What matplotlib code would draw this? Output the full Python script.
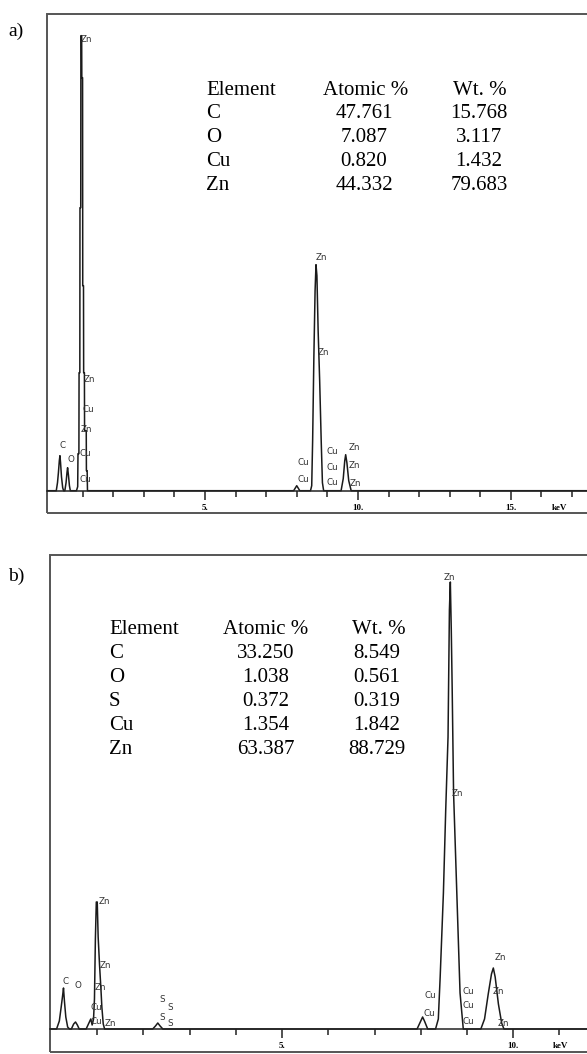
import matplotlib.pyplot as plt
from matplotlib.patches import Rectangle

# EDS spectra (energy in keV, counts in arbitrary units)
energy_a = [-0.16, 0.14, 0.18, 0.21, 0.24, 0.26, 0.28, 0.31, 0.35, 0.38,
            0.42, 0.46, 0.49, 0.51, 0.54, 0.57, 0.60,
            0.80, 0.84, 0.85, 0.88, 0.885, 0.91, 0.915, 0.94, 0.945, 0.97, 0.975,
            1.0, 1.005, 1.03, 1.035, 1.06, 1.065, 1.12, 1.125, 1.15, 1.16,
            7.90, 7.96, 8.00, 8.04, 8.10,
            8.45, 8.49, 8.52, 8.56, 8.60, 8.63, 8.66, 8.70, 8.75, 8.80, 8.84, 8.88,
            9.45, 9.52, 9.57, 9.60, 9.64, 9.70, 9.78, 17.8]
counts_a = [0, 0, 8, 18, 30, 35, 28, 14, 3, 0,
            0, 8, 18, 23, 15, 5, 0,
            0, 4, 37, 37, 118, 118, 283, 283, 455, 455, 413,
            413, 205, 205, 118, 118, 60, 60, 20, 20, 0,
            0, 3, 5, 3, 0,
            0, 5, 50, 133, 200, 226, 215, 160, 110, 50, 8, 0,
            0, 12, 30, 36, 28, 10, 0, 0]

energy_b = [-0.02, 0.12, 0.18, 0.22, 0.25, 0.27, 0.29, 0.32, 0.36, 0.40,
            0.44, 0.49, 0.53, 0.57, 0.61,
            0.76, 0.82, 0.86, 0.89, 0.92, 0.94, 0.96, 0.98, 1.00, 1.02, 1.05,
            1.08, 1.10, 1.13, 1.16,
            2.20, 2.26, 2.31, 2.36, 2.42,
            7.92, 7.98, 8.04, 8.08, 8.15,
            8.32, 8.38, 8.42, 8.49, 8.54, 8.59, 8.62, 8.64, 8.66, 8.68, 8.71,
            8.78, 8.85, 8.92,
            9.30, 9.38, 9.46, 9.53, 9.57, 9.61, 9.68, 9.75, 9.80, 11.8]
counts_b = [0, 0, 8, 22, 33, 41, 28, 12, 2, 0,
            0, 5, 7, 4, 0,
            0, 6, 10, 4, 10, 30, 90, 127, 127, 92, 64,
            40, 22, 5, 0,
            0, 3, 6, 3, 0,
            0, 6, 12, 8, 0,
            0, 10, 52, 136, 219, 292, 419, 447, 400, 340, 236,
            136, 36, 0,
            0, 10, 35, 55, 61, 52, 25, 6, 0, 0]

# composition tables
elements_a = ['C', 'O', 'Cu', 'Zn']
atomic_a = ['47.761', '7.087', '0.820', '44.332']
weight_a = ['15.768', '3.117', '1.432', '79.683']

elements_b = ['C', 'O', 'S', 'Cu', 'Zn']
atomic_b = ['33.250', '1.038', '0.372', '1.354', '63.387']
weight_b = ['8.549', '0.561', '0.319', '1.842', '88.729']

# peak labels (text, keV, counts)
labels_a = [('Zn', 1.11, 451), ('Zn', 1.21, 111), ('Cu', 1.18, 81), ('Zn', 1.14, 61),
            ('Cu', 1.08, 37), ('Cu', 1.08, 11), ('C', 0.33, 45), ('O', 0.62, 31),
            ('Zn', 8.82, 233), ('Zn', 8.86, 138), ('Cu', 8.2, 28), ('Cu', 8.2, 11),
            ('Cu', 9.15, 39), ('Cu', 9.15, 23), ('Cu', 9.15, 8),
            ('Zn', 9.87, 43), ('Zn', 9.87, 25), ('Zn', 9.93, 7)]
labels_b = [('Zn', 8.61, 452), ('Zn', 8.79, 236), ('Cu', 8.2, 34), ('Cu', 8.18, 15),
            ('Cu', 9.03, 38), ('Cu', 9.03, 23), ('Cu', 9.03, 7),
            ('Zn', 9.72, 71), ('Zn', 9.68, 37), ('Zn', 9.78, 6),
            ('Zn', 1.15, 128), ('Zn', 1.17, 64), ('Zn', 1.06, 42), ('Cu', 0.97, 22),
            ('Cu', 0.97, 7), ('Zn', 1.28, 6), ('C', 0.32, 48), ('O', 0.58, 43),
            ('S', 2.40, 29), ('S', 2.58, 22), ('S', 2.40, 11), ('S', 2.58, 6)]

W, H = 587, 1054
fig = plt.figure(figsize=(W / 100, H / 100), dpi=100)


def px_axes(left, top, right, bottom):
    return fig.add_axes([left / W, 1 - bottom / H, (right - left) / W, (bottom - top) / H])


def draw_panel(ax, energy, counts, xlim, ylim, majors, last_tick, labels, kev_x):
    ax.set_xlim(*xlim)
    ax.set_ylim(*ylim)
    ax.plot(energy, counts, color='#1a1a1a', lw=1.1)
    for name, x, y in labels:
        ax.text(x, y, name, fontsize=6.3, color='#333333', ha='center', va='center',
                family='DejaVu Sans')
    for s in ['left', 'right', 'top']:
        ax.spines[s].set_visible(False)
    ax.spines['bottom'].set_position(('data', 0))
    ax.spines['bottom'].set_color('#222222')
    ax.spines['bottom'].set_linewidth(1.1)
    ax.add_patch(Rectangle((0, 0), 1, 1, transform=ax.transAxes, fill=False,
                           ec='#555555', lw=1.4, clip_on=False))
    ax.set_yticks([])
    ax.set_xticks(majors)
    ax.set_xticklabels([f'{m}.' for m in majors], fontsize=6.5, fontweight='bold',
                       family='Liberation Serif')
    ax.set_xticks(range(1, last_tick + 1), minor=True)
    ax.tick_params(axis='x', which='major', length=6.5, width=1.1, pad=3.2, color='#222222')
    ax.tick_params(axis='x', which='minor', length=4.3, width=1.1, color='#222222')
    ax.text(kev_x, -17.5, 'keV', fontsize=6.5, fontweight='bold', family='Liberation Serif',
            ha='center', va='center')


ax_a = px_axes(47, 14, 595, 513)
draw_panel(ax_a, energy_a, counts_a, (-0.163, 17.75), (-22.3, 476.7), [5, 10, 15], 17,
           labels_a, 16.6)
ax_b = px_axes(50, 555, 595, 1052)
draw_panel(ax_b, energy_b, counts_b, (-0.022, 11.77), (-23, 474), [5, 10], 11,
           labels_b, 11.02)


def ftext(x, y, s, **kw):
    fig.text(x / W, 1 - y / H, s, family='Liberation Serif', va='center', **kw)


ftext(8, 31, 'a)', fontsize=14)
ftext(8, 576, 'b)', fontsize=14)

# table a
fs = 15
ftext(206, 90, 'Element', fontsize=fs)
ftext(366, 90, 'Atomic %', fontsize=fs, ha='center')
ftext(480, 90, 'Wt. %', fontsize=fs, ha='center')
for i, (el, at, wt) in enumerate(zip(elements_a, atomic_a, weight_a)):
    y = 114 + 24 * i
    ftext(206, y, el, fontsize=fs)
    ftext(364, y, at, fontsize=fs, ha='center')
    ftext(479, y, wt, fontsize=fs, ha='center')

# table b
ftext(109, 630, 'Element', fontsize=fs)
ftext(266, 630, 'Atomic %', fontsize=fs, ha='center')
ftext(379, 630, 'Wt. %', fontsize=fs, ha='center')
for i, (el, at, wt) in enumerate(zip(elements_b, atomic_b, weight_b)):
    y = 654 + 24 * i
    ftext(109, y, el, fontsize=fs)
    ftext(266, y, at, fontsize=fs, ha='center')
    ftext(377, y, wt, fontsize=fs, ha='center')

fig.savefig('out.png', dpi=100)
